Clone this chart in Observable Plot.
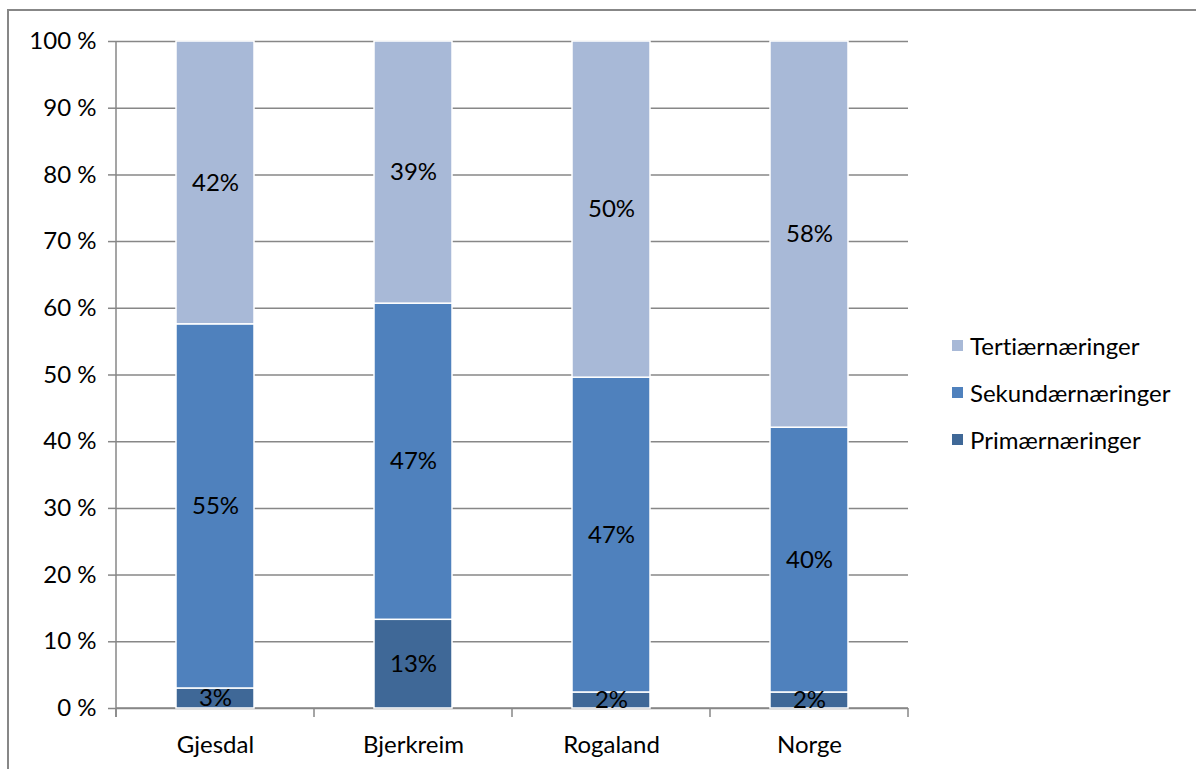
<!DOCTYPE html>
<html>
<head>
<meta charset="utf-8">
<script src="https://cdn.jsdelivr.net/npm/d3@7"></script>
<script src="https://cdn.jsdelivr.net/npm/@observablehq/plot@0.6"></script>
<style>
  html, body { margin: 0; padding: 0; background: #fff; }
  #wrap { position: relative; width: 1196px; height: 769px; overflow: hidden; font-family: Lato, "Open Sans", sans-serif; font-variant-ligatures: none; }
  #wrap svg text { font-variant-ligatures: none; }
  #border { position: absolute; left: 7px; top: 9px; width: 1300px; height: 900px; border-top: 2px solid #878787; border-left: 2px solid #878787; box-sizing: border-box; }
  #chart { position: absolute; left: 0; top: 0; }
  #legend { position: absolute; left: 952px; top: 322px; font-size: 24px; color: #000; }
  .item { display: flex; align-items: center; height: 47px; }
  .sw { width: 11px; height: 11px; margin-right: 7px; }
</style>
</head>
<body>
<div id="wrap">
  <div id="border"></div>
  <div id="chart"></div>
  <div id="legend"></div>
</div>
<script>
// ---- data ----
const categories = ["Gjesdal", "Bjerkreim", "Rogaland", "Norge"];
const seriesNames = ["Primærnæringer", "Sekundærnæringer", "Tertiærnæringer"];
const primary   = [3.0, 13.3, 2.4, 2.4];
const secondary = [54.6, 47.4, 47.2, 39.7];
const tertiary  = [42.4, 39.3, 50.4, 57.9];
const primaryLabels   = ["3%", "13%", "2%", "2%"];
const secondaryLabels = ["55%", "47%", "47%", "40%"];
const tertiaryLabels  = ["42%", "39%", "50%", "58%"];
const yTicks = [0, 10, 20, 30, 40, 50, 60, 70, 80, 90, 100];
const colors = ["#3F6897", "#4F81BD", "#A8B9D7"];

// ---- build table ----
const seriesValues = [primary, secondary, tertiary];
const seriesLabels = [primaryLabels, secondaryLabels, tertiaryLabels];
const rows = [];
seriesNames.forEach((s, si) => {
  categories.forEach((c, ci) => {
    rows.push({category: c, series: s, value: seriesValues[si][ci], label: seriesLabels[si][ci]});
  });
});

const gray = "#878787";

function decor(index, scales, values, dims) {
  const {width, height, marginLeft, marginRight, marginTop, marginBottom} = dims;
  const g = d3.create("svg:g").attr("stroke", gray).attr("stroke-width", 1.5);
  const y0 = height - marginBottom;
  const n = categories.length;
  const step = (width - marginLeft - marginRight) / n;
  g.append("line").attr("x1", marginLeft).attr("x2", marginLeft).attr("y1", marginTop).attr("y2", y0 + 9);
  g.append("line").attr("x1", marginLeft).attr("x2", width - marginRight).attr("y1", y0).attr("y2", y0);
  for (let i = 0; i <= n; i++) {
    const x = marginLeft + i * step;
    g.append("line").attr("x1", x).attr("x2", x).attr("y1", y0).attr("y2", y0 + 9);
  }
  return g.node();
}

const chart = Plot.plot({
  width: 1196,
  height: 769,
  marginLeft: 116,
  marginRight: 288,
  marginTop: 41,
  marginBottom: 61,
  style: {fontFamily: "Lato, 'Open Sans', sans-serif", fontSize: "24px", color: "#000", background: "transparent"},
  x: {domain: categories, paddingInner: 0.606, paddingOuter: 0.303, axis: null},
  y: {domain: [0, 100], axis: null},
  color: {domain: seriesNames, range: colors},
  marks: [
    Plot.gridY(yTicks, {stroke: gray, strokeOpacity: 1, strokeWidth: 1.5}),
    Plot.axisY(yTicks, {tickFormat: d => `${d} %`, tickSize: 8, tickPadding: 12, stroke: gray, strokeWidth: 1.5, strokeOpacity: 1, label: null, fontSize: 24, fill: "#000"}),
    Plot.axisX({tickSize: 0, tickPadding: 27, label: null, fontSize: 24, fill: "#000"}),
    decor,
    Plot.barY(rows, Plot.stackY({x: "category", y: "value", fill: "series", stroke: "white", strokeWidth: 1.5, style: {filter: "drop-shadow(1px 1px 1.5px rgba(0,0,0,0.25))"}})),
    Plot.text(rows, Plot.stackY({x: "category", y: "value", text: "label", fontSize: 24, fill: "#000"}))
  ]
});
document.getElementById("chart").appendChild(chart);

// legend (top to bottom reversed)
const legend = d3.select("#legend");
seriesNames.slice().reverse().forEach(s => {
  const it = legend.append("div").attr("class", "item");
  it.append("div").attr("class", "sw").style("background", colors[seriesNames.indexOf(s)]);
  it.append("span").text(s);
});
</script>
</body>
</html>
